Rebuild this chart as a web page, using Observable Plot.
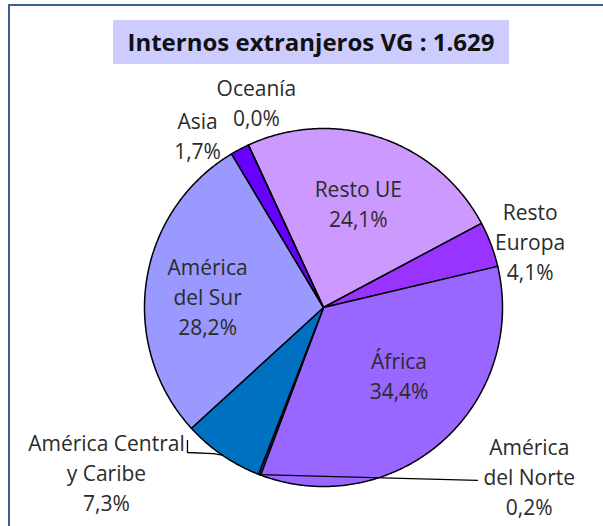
<!DOCTYPE html>
<html><head><meta charset="utf-8">
<script src="https://cdn.jsdelivr.net/npm/d3@7"></script>
<script src="https://cdn.jsdelivr.net/npm/@observablehq/plot@0.6"></script>
<style>
body{margin:0;background:#fff;}
#wrap{position:relative;width:603px;height:526px;overflow:hidden;}
#frame{position:absolute;left:8px;top:4px;right:-10px;bottom:-10px;border-left:2px solid #3b5f93;border-top:2px solid #3b5f93;}
#title{position:absolute;left:113px;top:20px;width:396px;height:44px;background:#ccccff;font:bold 24px "Open Sans", sans-serif;line-height:44px;text-align:center;color:#111;}
#chart{position:absolute;left:0;top:0;}
</style></head><body>
<div id="wrap"><div id="chart"></div><div id="frame"></div><div id="title">Internos extranjeros VG : 1.629</div></div>
<script>
// Data
const categories = ["Resto UE","Resto Europa","África","América del Norte","América Central y Caribe","América del Sur","Asia","Oceanía"];
const values = [24.1, 4.1, 34.4, 0.2, 7.3, 28.2, 1.7, 0.0];
const labelNames = ["Resto UE","Resto\nEuropa","África","América\ndel Norte","América Central\ny Caribe","América\ndel Sur","Asia","Oceanía"];
const colors = ["#cc99ff","#9933ff","#9966ff","#6633cc","#0070c0","#9999ff","#6600ff","#ccccff"];

// Layout
const startDeg = -24.8;
const labelDelta = [0, 3.2, -6.4, -71.4, 18.2, -3.4, -8.5, 6.6];
const labelRadius = [0.61, 1.21, 0.57, 1.49, 1.526, 0.65, 1.187, 1.2];

const rad = d => d * Math.PI / 180;
const pie = d3.pie().sort(null).value(d => d.value)
  .startAngle(rad(startDeg)).endAngle(rad(startDeg) + 2 * Math.PI);
const arcs = pie(categories.map((name, i) => ({name, value: values[i], i})));

const pts = [];
for (const a of arcs) {
  const name = a.data.name;
  pts.push({name, x: 0, y: 0});
  const n = Math.max(1, Math.ceil((a.endAngle - a.startAngle) / rad(0.5)));
  for (let k = 0; k <= n; k++) {
    const t = a.startAngle + (a.endAngle - a.startAngle) * k / n;
    pts.push({name, x: Math.sin(t), y: Math.cos(t)});
  }
  pts.push({name, x: 0, y: 0});
}

const fmt = v => v.toFixed(1).replace(".", ",") + "%";
const labels = arcs.map((a, i) => {
  const mid = (a.startAngle + a.endAngle) / 2 + rad(labelDelta[i]);
  return {text: labelNames[i] + "\n" + fmt(values[i]), x: labelRadius[i] * Math.sin(mid), y: labelRadius[i] * Math.cos(mid)};
});

const midOf = i => (arcs[i].startAngle + arcs[i].endAngle) / 2;
const leaders = [
  {name: "norte", x: Math.sin(midOf(3)), y: Math.cos(midOf(3))},
  {name: "norte", x: 0.86, y: -0.966},
  {name: "central", x: Math.sin(midOf(4)), y: Math.cos(midOf(4))},
  {name: "central", x: -0.615, y: -0.816},
  {name: "central", x: -0.76, y: -0.81},
  {name: "central", x: -0.76, y: -0.743}
];

const chart = Plot.plot({
  width: 603, height: 526, margin: 0,
  x: {domain: [-1, 1], range: [144, 502], axis: null},
  y: {domain: [-1, 1], range: [486, 128], axis: null},
  color: {domain: categories, range: colors},
  style: {background: "transparent"},
  marks: [
    Plot.line(pts, {x: "x", y: "y", z: "name", fill: "name", stroke: "#000", strokeWidth: 1.5, strokeLinejoin: "round", curve: "linear"}),
    Plot.line(leaders, {x: "x", y: "y", z: "name", stroke: "#000", strokeWidth: 1.3}),
    Plot.text(labels, {x: "x", y: "y", dy: -2, text: "text", fontSize: 21, lineHeight: 1.43, fontFamily: "Open Sans", fill: "#2b2b2b", lineAnchor: "middle", textAnchor: "middle"})
  ]
});
document.getElementById("chart").appendChild(chart);
</script>
</body></html>
